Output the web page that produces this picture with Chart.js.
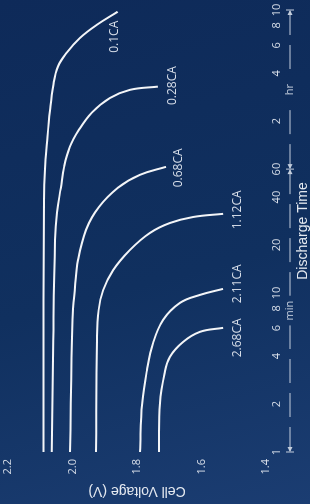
<!DOCTYPE html>
<html>
<head>
<meta charset="utf-8">
<script src="https://cdn.jsdelivr.net/npm/chart.js@4.4.1/dist/chart.umd.min.js"></script>
<style>
  html, body { margin: 0; padding: 0; }
  body {
    width: 310px; height: 504px; overflow: hidden; position: relative;
    background: linear-gradient(165deg, #0e2a59 0%, #10305f 55%, #1b3d72 100%);
  }
  /* the chart is drawn landscape and turned a quarter turn to the left */
  .turned {
    position: absolute; left: 0; top: 0; width: 504px; height: 310px;
    transform-origin: 0 0; transform: translateY(504px) rotate(-90deg);
  }
</style>
</head>
<body>
<div class="turned"><canvas id="chart" width="504" height="310"></canvas></div>
<script>
// discharge time in minutes, cell voltage in volts
const seriesLabels = ["0.1CA", "0.28CA", "0.68CA", "1.12CA", "2.11CA", "2.68CA"];

const time01 = [1, 9, 38, 60, 88, 140, 200, 265, 325, 400, 485, 585];
const volt01 = [2.09, 2.09, 2.088, 2.085, 2.079, 2.07, 2.06, 2.045, 2.017, 1.977, 1.924, 1.86];

const time028 = [1, 5, 21.5, 32, 46, 62, 83, 106, 136, 168, 189, 198];
const volt028 = [2.064, 2.06, 2.054, 2.048, 2.036, 2.026, 2.008, 1.98, 1.94, 1.884, 1.822, 1.735];

const time068 = [1, 6.8, 10.9, 16.1, 24.9, 34.7, 45.8, 55.2, 62];
const volt068 = [2.008, 2.0, 1.992, 1.983, 1.958, 1.918, 1.859, 1.791, 1.71];

const time112 = [1, 5, 7.8, 10.4, 13.9, 18.6, 23.8, 27.5, 30, 31.4];
const volt112 = [1.927, 1.924, 1.919, 1.905, 1.874, 1.822, 1.76, 1.698, 1.626, 1.533];

const time211 = [1, 2.03, 3.28, 4.85, 6.77, 8.65, 9.71, 10.6];
const volt211 = [1.791, 1.784, 1.769, 1.75, 1.719, 1.667, 1.605, 1.533];

const time268 = [1, 2.03, 3.1, 3.96, 4.92, 5.69, 6.03];
const volt268 = [1.732, 1.729, 1.715, 1.698, 1.657, 1.605, 1.533];

const timeTicks = [1, 2, 4, 6, 8, 10, 20, 40, 60, 120, 240, 360, 480, 600];
const timeTickLabels = ["1", "2", "4", "6", "8", "10", "20", "40", "60", "2", "4", "6", "8", "10"];
const voltTicks = [1.4, 1.6, 1.8, 2.0, 2.2];

const allTimes = [time01, time028, time068, time112, time211, time268];
const allVolts = [volt01, volt028, volt068, volt112, volt211, volt268];

// where each curve name sits relative to the curve's last point
const labelDx = [-25, 1, -1, 4, 5, -10];
const labelDy = [-3, 15, 13, 14, 14, 14];

const textColor = "#d6dde8";

const curveLabels = {
    id: "curveLabels",
    afterDatasetsDraw(chart) {
        const ctx = chart.ctx;
        ctx.save();
        ctx.font = "12px 'Open Sans'";
        ctx.fillStyle = textColor;
        ctx.textAlign = "center";
        ctx.textBaseline = "middle";
        chart.data.datasets.forEach((ds, i) => {
            const pts = chart.getDatasetMeta(i).data;
            const last = pts[pts.length - 1];
            ctx.fillText(ds.label, last.x + labelDx[i], last.y + labelDy[i]);
        });
        ctx.restore();
    },
};

// the "|<-- min -->|<-- hr -->|" bracket under the time ticks
const timeBracket = {
    id: "timeBracket",
    afterDraw(chart) {
        const ctx = chart.ctx;
        const xs = chart.scales.x;
        const y = chart.chartArea.bottom + 24;
        const a = xs.getPixelForValue(1);
        const b = xs.getPixelForValue(60);
        const c = xs.getPixelForValue(600);
        ctx.save();
        ctx.strokeStyle = "#c3cddc";
        ctx.fillStyle = "#c3cddc";
        ctx.lineWidth = 1;
        ctx.font = "11px 'Open Sans'";
        ctx.textAlign = "center";
        ctx.textBaseline = "middle";

        const segment = (x0, x1, text) => {
            const mid = (x0 + x1) / 2;
            const half = ctx.measureText(text).width / 2 + 5;
            ctx.setLineDash([24, 10]);
            ctx.beginPath();
            ctx.moveTo(x0 + 1, y); ctx.lineTo(mid - half, y);
            ctx.moveTo(x1 - 1, y); ctx.lineTo(mid + half, y);
            ctx.stroke();
            ctx.setLineDash([]);
            ctx.fillText(text, mid, y);
        };
        const arrow = (x, dir) => {
            ctx.beginPath();
            ctx.moveTo(x, y);
            ctx.lineTo(x + dir * 5, y - 2.5);
            ctx.lineTo(x + dir * 5, y + 2.5);
            ctx.closePath();
            ctx.fill();
        };
        const bar = (x) => {
            ctx.beginPath();
            ctx.moveTo(x, y - 4); ctx.lineTo(x, y + 4);
            ctx.stroke();
        };
        segment(a, b, "min");
        segment(b, c, "hr");
        [a, b, c].forEach(bar);
        arrow(a, 1); arrow(b, -1); arrow(b, 1); arrow(c, -1);
        ctx.restore();
    },
};

const datasets = seriesLabels.map((label, i) => ({
    label: label,
    data: allTimes[i].map((t, k) => ({ x: t, y: allVolts[i][k] })),
    borderColor: "#f3f5f8",
    borderWidth: 2,
    pointRadius: 0,
    fill: false,
    tension: 0.4,
}));

new Chart(document.getElementById("chart"), {
    type: "line",
    data: { datasets: datasets },
    options: {
        responsive: false,
        animation: false,
        layout: { padding: { top: 8, right: 10, left: 0, bottom: 0 } },
        plugins: { legend: { display: false }, tooltip: { enabled: false } },
        scales: {
            x: {
                type: "logarithmic",
                min: 1,
                max: 600,
                grid: { display: false, drawTicks: false },
                border: { display: false },
                afterBuildTicks: (scale) => {
                    scale.ticks = timeTicks.map((v) => ({ value: v }));
                },
                afterFit: (scale) => {
                    scale.height = 44;
                    scale.paddingLeft = 0;
                    scale.paddingRight = 0;
                },
                ticks: {
                    autoSkip: false,
                    maxRotation: 0,
                    padding: 4,
                    color: textColor,
                    font: { family: "'Open Sans'", size: 11 },
                    callback: (value, index) => timeTickLabels[index],
                },
                title: {
                    display: true,
                    text: "Discharge Time",
                    color: "#e4e9f0",
                    font: { family: "'Liberation Sans'", size: 14, lineHeight: 1 },
                    padding: { top: 0, bottom: 0 },
                },
            },
            y: {
                min: 1.4,
                max: 2.2,
                grid: { display: false, drawTicks: false },
                border: { display: false },
                afterBuildTicks: (scale) => {
                    scale.ticks = voltTicks.map((v) => ({ value: v }));
                },
                afterFit: (scale) => {
                    scale.width = 52;
                    scale.paddingTop = 0;
                    scale.paddingBottom = 0;
                },
                ticks: {
                    padding: 7,
                    color: textColor,
                    font: { family: "'Open Sans'", size: 11 },
                    callback: (value) => Number(value).toFixed(1),
                },
                title: {
                    display: true,
                    text: "Cell Voltage (V)",
                    color: "#e4e9f0",
                    font: { family: "'Liberation Sans'", size: 14, lineHeight: 1 },
                    padding: { top: 6, bottom: 0 },
                },
            },
        },
    },
    plugins: [curveLabels, timeBracket],
});
</script>
</body>
</html>
